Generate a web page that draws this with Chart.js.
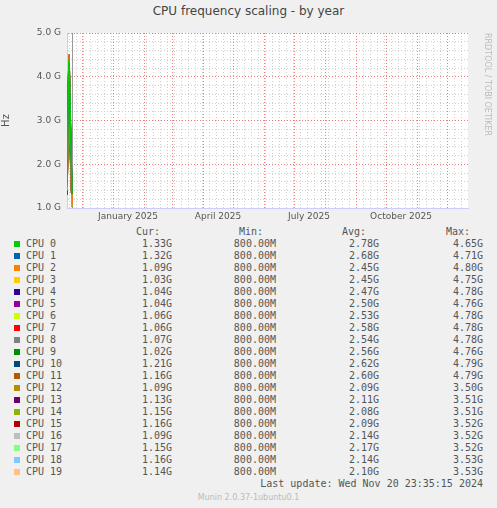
<!DOCTYPE html>
<html>
<head>
<meta charset="utf-8">
<script src="https://cdn.jsdelivr.net/npm/chart.js@4"></script>
<style>
  body { margin: 0; background: #f0f0f0; width: 497px; height: 508px; position: relative; overflow: hidden;
         font-family: "DejaVu Sans Mono", monospace; font-size: 10px; color: #555; }
  #title { position: absolute; top: 4px; left: 0; width: 497px; text-align: center;
           font-family: "DejaVu Sans", sans-serif; font-size: 12px; color: #444; }
  #wrap { position: absolute; left: 0; top: 0; width: 497px; height: 225px; }
  .t { position: absolute; white-space: pre; line-height: 12px; }
  .sw { position: absolute; width: 6px; height: 6px; }
  #munin { position: absolute; top: 493px; width: 497px; left: 0; text-align: center;
           font-family: "DejaVu Sans", sans-serif; font-size: 8px; color: #bbb; }
</style>
</head>
<body>
<div id="title">CPU frequency scaling - by year</div>
<div id="wrap"><canvas id="chart"></canvas></div>
<div id="legend"></div>
<div id="munin">Munin 2.0.37-1ubuntu0.1</div>
<script>
// days since Nov 16 2024
const days = [0, 1, 2, 3, 4, 5];
const cpuNames = ['CPU 0','CPU 1','CPU 2','CPU 3','CPU 4','CPU 5','CPU 6','CPU 7','CPU 8','CPU 9',
                  'CPU 10','CPU 11','CPU 12','CPU 13','CPU 14','CPU 15','CPU 16','CPU 17','CPU 18','CPU 19'];
const colors = ['#00CC00','#0066B3','#FF8000','#FFCC00','#330099','#990099','#CCFF00','#FF0000','#808080','#008F00',
                '#00487D','#B35A00','#B38F00','#6B006B','#8FB300','#B30000','#BEBEBE','#80FF80','#80C9FF','#FFC080'];
const series = [
  [1.5, 3.3, 4.4, 3.4, 2.4, 1.33],
  [1.6, 3.2, 4.3, 3.2, 2.3, 1.32],
  [1.4, 2.8, 4.5, 3.0, 2.0, 1.09],
  [1.4, 2.7, 4.4, 3.0, 2.1, 1.03],
  [1.3, 2.9, 4.5, 3.1, 2.0, 1.04],
  [1.4, 3.0, 4.4, 3.1, 2.2, 1.04],
  [1.4, 3.0, 4.5, 3.2, 2.1, 1.06],
  [1.5, 3.1, 4.5, 3.2, 2.2, 1.06],
  [1.4, 3.0, 4.4, 3.1, 2.1, 1.07],
  [1.5, 3.1, 4.5, 3.3, 2.2, 1.02],
  [1.6, 3.2, 4.5, 3.3, 2.2, 1.21],
  [1.6, 3.2, 4.5, 3.4, 2.3, 1.16],
  [1.5, 2.5, 3.4, 2.5, 1.8, 1.09],
  [1.5, 2.6, 3.4, 2.5, 1.9, 1.13],
  [1.5, 2.5, 3.4, 2.4, 1.8, 1.15],
  [1.5, 2.5, 3.4, 2.5, 1.8, 1.16],
  [1.6, 2.6, 3.4, 2.5, 1.9, 1.09],
  [1.6, 2.6, 3.5, 2.6, 1.9, 1.15],
  [1.6, 2.6, 3.4, 2.5, 1.9, 1.16],
  [1.5, 2.5, 3.5, 2.5, 1.8, 1.14]
];
const cur = ['1.33G','1.32G','1.09G','1.03G','1.04G','1.04G','1.06G','1.06G','1.07G','1.02G',
             '1.21G','1.16G','1.09G','1.13G','1.15G','1.16G','1.09G','1.15G','1.16G','1.14G'];
const mins = Array(20).fill('800.00M');
const avg = ['2.78G','2.68G','2.45G','2.45G','2.47G','2.50G','2.53G','2.58G','2.54G','2.56G',
             '2.62G','2.60G','2.09G','2.11G','2.08G','2.09G','2.14G','2.17G','2.14G','2.10G'];
const max = ['4.65G','4.71G','4.80G','4.75G','4.78G','4.76G','4.78G','4.78G','4.78G','4.76G',
             '4.79G','4.79G','3.50G','3.51G','3.51G','3.52G','3.52G','3.52G','3.53G','3.53G'];
const monthStarts = [15, 46, 77, 105, 136, 166, 197, 227, 258, 289, 319, 350, 380];
const monthLabels = [[61, 'January 2025'], [151, 'April 2025'], [242, 'July 2025'], [334, 'October 2025']];
const nowDay = 5.5;

// legend
const lg = document.getElementById('legend');
let html = '';
[['Cur:', 160], ['Min:', 263], ['Avg:', 366], ['Max:', 470]].forEach(h => {
  html += `<div class="t" style="top:226px;right:${497 - h[1]}px">${h[0]}</div>`;
});
cpuNames.forEach((n, i) => {
  const y = 238 + i * 12;
  html += `<div class="sw" style="left:14px;top:${y + 3}px;background:${colors[i]}"></div>`;
  html += `<div class="t" style="left:26px;top:${y}px">${n}</div>`;
  html += `<div class="t" style="right:${497 - 172}px;top:${y}px">${cur[i]}</div>`;
  html += `<div class="t" style="right:${497 - 276}px;top:${y}px">${mins[i]}</div>`;
  html += `<div class="t" style="right:${497 - 379}px;top:${y}px">${avg[i]}</div>`;
  html += `<div class="t" style="right:${497 - 483}px;top:${y}px">${max[i]}</div>`;
});
html += `<div class="t" style="right:14px;top:478px">Last update: Wed Nov 20 23:35:15 2024</div>`;
lg.innerHTML = html;

// x ticks: weekly minor, monthly major, label positions
const xTicks = [];
for (let d = 2; d < 401; d += 7) xTicks.push({ value: d, kind: 'minor' });
monthStarts.forEach(d => xTicks.push({ value: d, kind: 'major' }));
monthLabels.forEach(m => xTicks.push({ value: m[0], kind: 'label', label: m[1] }));
xTicks.push({ value: nowDay, kind: 'now' });

const sideText = {
  id: 'sideText',
  afterDraw(chart) {
    const c = chart.ctx;
    c.save();
    c.translate(487, 33);
    c.rotate(Math.PI / 2);
    c.font = '8px "DejaVu Sans"';
    c.fillStyle = '#bbb';
    c.textBaseline = 'middle';
    c.fillText('RRDTOOL / TOBI OETIKER', 0, 0);
    c.restore();
  }
};
const plotBg = {
  id: 'plotBg',
  beforeDraw(chart) {
    const a = chart.chartArea, c = chart.ctx;
    c.save(); c.fillStyle = '#fff'; c.fillRect(a.left, a.top, a.right - a.left, a.bottom - a.top); c.restore();
  }
};

new Chart(document.getElementById('chart'), {
  type: 'line',
  data: {
    datasets: cpuNames.map((n, i) => ({
      label: n,
      data: days.map((d, j) => ({ x: d, y: series[i][j] })),
      borderColor: colors[i],
      borderWidth: 1.5,
      pointRadius: 0,
      tension: 0
    }))
  },
  options: {
    responsive: true, maintainAspectRatio: false, animation: false,
    layout: { padding: { top: 33, right: 29, left: 0, bottom: 0 } },
    plugins: { legend: { display: false }, tooltip: { enabled: false } },
    scales: {
      x: {
        type: 'linear', min: 0, max: 401,
        afterBuildTicks: s => { s.ticks = xTicks.map(t => ({ value: t.value })); },
        afterFit: s => { s.height = 17; },
        border: {
          color: '#ccccff',
          dash: ctx => (xTicks[ctx.index] && xTicks[ctx.index].kind === 'now') ? [] : [1, 2]
        },
        grid: {
          drawTicks: false,
          color: ctx => {
            const t = xTicks[ctx.index];
            if (!t) return 'transparent';
            return t.kind === 'major' ? '#f08080' : t.kind === 'minor' ? '#d0d0d0' : t.kind === 'now' ? '#999' : 'transparent';
          }
        },
        ticks: {
          autoSkip: false, maxRotation: 0, padding: 3,
          font: { family: 'DejaVu Sans', size: 9 }, color: '#555',
          callback: (v, i) => xTicks[i] && xTicks[i].kind === 'label' ? xTicks[i].label : ''
        }
      },
      y: {
        min: 1, max: 5,
        afterFit: s => { s.width = 67; },
        border: { color: '#ccccff', dash: [1, 2] },
        title: { display: true, text: 'Hz', font: { family: 'DejaVu Sans', size: 10 }, color: '#555', padding: 0 },
        grid: {
          drawTicks: false,
          color: ctx => Math.abs(ctx.tick.value - Math.round(ctx.tick.value)) < 1e-6 ? '#f08080' : '#d0d0d0'
        },
        ticks: {
          stepSize: 0.2, autoSkip: false, padding: 6,
          font: { family: 'DejaVu Sans', size: 9 }, color: '#555',
          callback: v => Math.abs(v - Math.round(v)) < 1e-6 ? v.toFixed(1) + ' G' : ''
        }
      }
    }
  },
  plugins: [plotBg, sideText]
});
</script>
</body>
</html>
